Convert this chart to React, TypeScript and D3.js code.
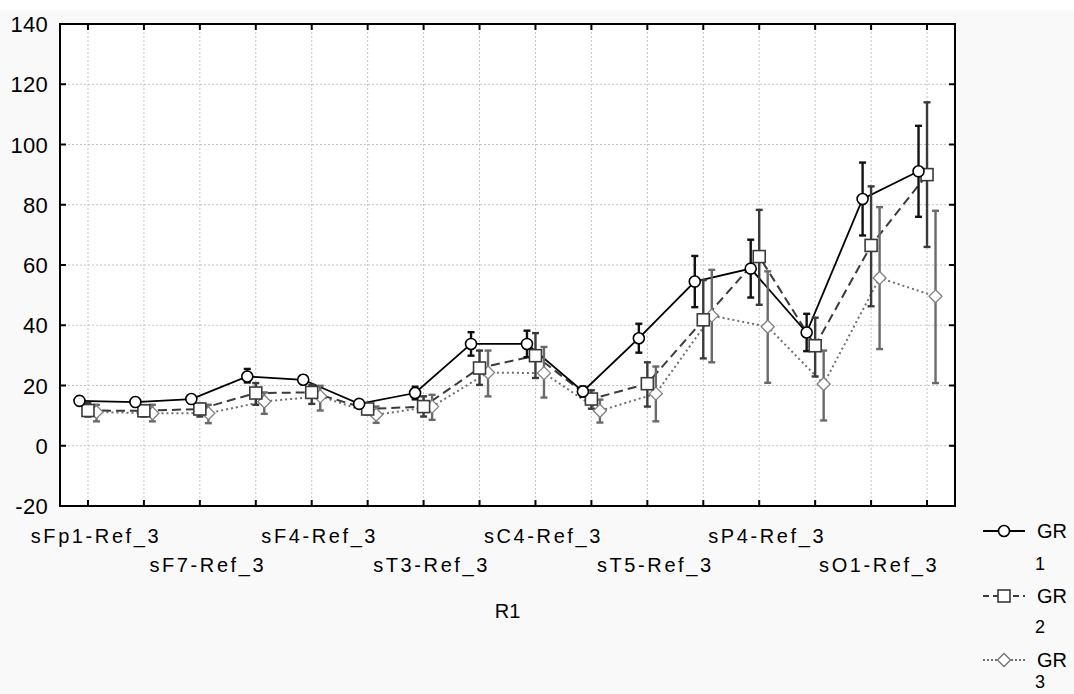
import React from "react";
import * as d3 from "d3";

const categories = [
  "sFp1-Ref_3", "sFp2-Ref_3", "sF7-Ref_3", "sF3-Ref_3",
  "sF4-Ref_3", "sF8-Ref_3", "sT3-Ref_3", "sC3-Ref_3",
  "sC4-Ref_3", "sT4-Ref_3", "sT5-Ref_3", "sP3-Ref_3",
  "sP4-Ref_3", "sT6-Ref_3", "sO1-Ref_3", "sO2-Ref_3",
];

const groups = ["GR 1", "GR 2", "GR 3"];

const gr1Mean = [14.9, 14.5, 15.5, 23.0, 21.9, 13.9, 17.5, 33.8, 33.8, 18.0, 35.7, 54.5, 58.8, 37.6, 81.9, 91.1];
const gr1Upper = [16.3, 15.8, 16.8, 25.5, 23.3, 15.0, 19.6, 37.7, 38.2, 19.7, 40.5, 63.0, 68.4, 43.8, 94.0, 106.2];
const gr1Lower = [13.5, 13.2, 14.2, 21.0, 20.5, 12.8, 15.4, 29.9, 29.4, 16.3, 30.9, 46.0, 49.2, 31.4, 69.8, 76.0];

const gr2Mean = [11.7, 11.6, 12.2, 17.5, 17.7, 12.2, 13.0, 25.8, 29.9, 15.5, 20.6, 41.8, 62.8, 33.2, 66.5, 90.0];
const gr2Upper = [14.2, 13.5, 13.9, 20.8, 20.2, 14.0, 16.4, 31.6, 37.4, 18.4, 27.7, 55.0, 78.3, 42.5, 86.1, 114.0];
const gr2Lower = [9.7, 9.7, 9.7, 13.6, 13.9, 10.4, 9.7, 20.2, 22.5, 12.3, 13.0, 29.0, 46.8, 23.0, 46.3, 66.0];

const gr3Mean = [11.2, 10.8, 10.8, 14.7, 16.4, 10.3, 13.0, 24.3, 24.1, 11.6, 17.3, 43.2, 39.5, 20.5, 55.7, 49.6];
const gr3Upper = [13.6, 13.6, 13.6, 17.7, 19.9, 13.0, 16.9, 31.6, 32.8, 15.3, 26.3, 58.4, 57.9, 31.6, 79.2, 78.0];
const gr3Lower = [8.1, 8.1, 7.5, 10.6, 11.7, 7.6, 8.6, 16.4, 16.0, 7.7, 8.1, 27.7, 20.9, 8.4, 32.1, 20.8];

const yTicks = [-20, 0, 20, 40, 60, 80, 100, 120, 140];

const width = 1074;
const height = 694;
const left = 60;
const right = 955;
const top = 24;
const bottom = 506;
const font = "'Liberation Sans', Arial, sans-serif";

const series = [
  { name: groups[0], mean: gr1Mean, lo: gr1Lower, hi: gr1Upper, color: "#000", err: "#111", dash: "none", legendDash: "none", marker: "circle" },
  { name: groups[1], mean: gr2Mean, lo: gr2Lower, hi: gr2Upper, color: "#3a3a3a", err: "#3a3a3a", dash: "9,5", legendDash: "6,4", marker: "square" },
  { name: groups[2], mean: gr3Mean, lo: gr3Lower, hi: gr3Upper, color: "#707070", err: "#6a6a6a", dash: "2,3", legendDash: "2,2", marker: "diamond" },
];

// legend rows: symbol line and the number below "GR"
const legendY = [531, 596, 660];
const legendNumY = [570, 633, 688];

const Marker = ({ type, x, y, color }: { type: string; x: number; y: number; color: string }) => {
  if (type === "circle")
    return <circle cx={x} cy={y} r={5.5} fill="#fff" stroke={color} strokeWidth={1.6} />;
  if (type === "square")
    return <rect x={x - 6} y={y - 6} width={12} height={12} fill="#fff" stroke={color} strokeWidth={1.6} />;
  return (
    <path
      d={`M${x},${y - 6.5}L${x + 6.5},${y}L${x},${y + 6.5}L${x - 6.5},${y}Z`}
      fill="#fff"
      stroke={color}
      strokeWidth={1.3}
    />
  );
};

const App = () => {
  const x = d3.scaleBand().domain(categories).range([left, right]);
  const off = d3.scalePoint().domain(groups).range([-8.5, 8.5]);
  const y = d3.scaleLinear().domain([-20, 140]).range([bottom, top]);
  const cx = (c: string) => (x(c) as number) + x.bandwidth() / 2;

  const line = d3
    .line<[number, number]>()
    .x((d) => d[0])
    .y((d) => d[1]);

  const back = series.slice().reverse();

  return (
    <svg
      width={width}
      height={height}
      style={{ position: "absolute", left: 0, top: 0, fontFamily: font }}
    >
      <rect x={0} y={0} width={width} height={height} fill="#fff" />
      <rect x={0} y={10} width={width} height={height - 10} fill="#f9f9f9" />
      <rect x={left} y={top} width={right - left} height={bottom - top} fill="#fff" />

      {/* grid */}
      {categories.map((c) => (
        <line key={c} x1={cx(c)} x2={cx(c)} y1={top} y2={bottom} stroke="#c4c4c4" strokeDasharray="2,2" />
      ))}
      {yTicks.slice(1, -1).map((t) => (
        <line key={t} x1={left} x2={right} y1={y(t)} y2={y(t)} stroke="#c4c4c4" strokeDasharray="2,2" />
      ))}

      {/* lines */}
      {back.map((s) => (
        <path
          key={s.name}
          d={line(categories.map((c, i) => [cx(c) + (off(s.name) as number), y(s.mean[i])])) as string}
          fill="none"
          stroke={s.color}
          strokeWidth={s.marker === "circle" ? 1.8 : 2}
          strokeDasharray={s.dash}
        />
      ))}

      {/* error bars */}
      {back.map((s) => (
        <g key={s.name} stroke={s.err} strokeWidth={2.4}>
          {categories.map((c, i) => {
            const px = cx(c) + (off(s.name) as number);
            return (
              <g key={c}>
                <line x1={px} x2={px} y1={y(s.lo[i])} y2={y(s.hi[i])} />
                <line x1={px - 3.5} x2={px + 3.5} y1={y(s.lo[i])} y2={y(s.lo[i])} />
                <line x1={px - 3.5} x2={px + 3.5} y1={y(s.hi[i])} y2={y(s.hi[i])} />
              </g>
            );
          })}
        </g>
      ))}

      {/* markers */}
      {back.map((s) => (
        <g key={s.name}>
          {categories.map((c, i) => (
            <Marker
              key={c}
              type={s.marker}
              x={cx(c) + (off(s.name) as number)}
              y={y(s.mean[i])}
              color={s.marker === "diamond" ? "#808080" : s.color}
            />
          ))}
        </g>
      ))}

      {/* frame and inner ticks */}
      <rect x={left} y={top} width={right - left} height={bottom - top} fill="none" stroke="#000" strokeWidth={2} />
      {categories.map((c) => (
        <g key={c} stroke="#000" strokeWidth={2}>
          <line x1={cx(c)} x2={cx(c)} y1={bottom} y2={bottom - 6} />
          <line x1={cx(c)} x2={cx(c)} y1={top} y2={top + 6} />
        </g>
      ))}
      {yTicks.map((t) => (
        <g key={t} stroke="#000" strokeWidth={2}>
          <line x1={left} x2={left + 6} y1={y(t)} y2={y(t)} />
          <line x1={right} x2={right - 6} y1={y(t)} y2={y(t)} />
        </g>
      ))}

      {/* y labels */}
      {yTicks.map((t) => (
        <text key={t} x={48} y={y(t) + 8} textAnchor="end" fontSize={22} letterSpacing={0.3} fill="#000">
          {t}
        </text>
      ))}

      {/* x labels (every other, staggered) */}
      {categories.map((c, i) =>
        i % 2 === 0 ? (
          <text
            key={c}
            x={cx(c) + 8}
            y={i % 4 === 0 ? 543 : 572}
            textAnchor="middle"
            fontSize={20}
            letterSpacing={2.6}
            fill="#000"
          >
            {c}
          </text>
        ) : null
      )}
      <text x={(left + right) / 2} y={618} textAnchor="middle" fontSize={20} fill="#000">
        R1
      </text>

      {/* legend */}
      {series.map((s, i) => {
        const ly = legendY[i];
        return (
          <g key={s.name}>
            <line x1={983} x2={1025} y1={ly} y2={ly} stroke={s.color} strokeWidth={2} strokeDasharray={s.legendDash} />
            <Marker type={s.marker} x={1004} y={ly} color={s.color} />
            <text x={1037} y={ly + 7} fontSize={20} fill="#000">
              GR
            </text>
            <text x={1035} y={legendNumY[i]} fontSize={18} fill="#000">
              {s.name.split(" ")[1]}
            </text>
          </g>
        );
      })}
    </svg>
  );
};

export default App;
